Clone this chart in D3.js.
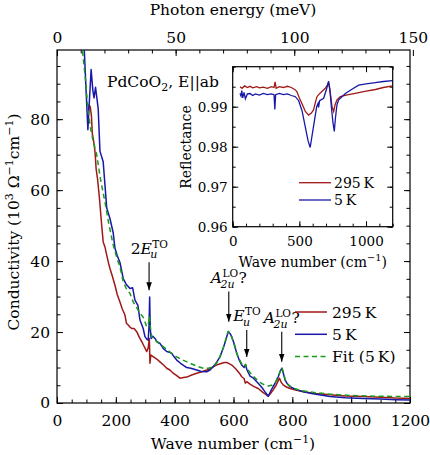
<!DOCTYPE html>
<html>
<head>
<meta charset="utf-8">
<script src="https://cdn.jsdelivr.net/npm/d3@7"></script>
<style>
  body { margin:0; background:#fff; }
  svg { font-family:"DejaVu Serif", serif; }
  .tick text { font-family:"DejaVu Serif", serif; }
</style>
</head>
<body>
<div id="chart"></div>
<script>
// main panel: optical conductivity, [wave number cm-1, sigma 10^3 Ohm-1 cm-1]
const sigma295 = [[105,79],[108,84],[113,83.5],[117,81],[120,76],[124,74],[127,72.5],[130,70],[133,66],[138,63],[144,58],[152,50],[157,45.4],[163,44],[169,41.7],[175,39.5],[180,37.9],[188,35.8],[197,33.2],[205,30.5],[214,28.5],[222,26.5],[231,24.8],[236,22.5],[242,22],[248,21.4],[254,21],[262,21],[271,20.1],[280,18.5],[288,17.3],[296,16],[305,14.5],[310,15.5],[314,18.2],[316,11.2],[319,13.5],[328,13],[339,12.4],[350,11.6],[362,10.7],[373,9.8],[384,9.3],[395,8.4],[406,7.8],[418,7],[430,7.2],[441,7.3],[458,7.9],[475,8.4],[492,8.8],[509,9.3],[520,9.7],[531,10.2],[545,10.8],[560,11.2],[570,11.4],[577,11.4],[585,11.1],[594,10.7],[603,10],[611,9.3],[620,8.4],[628,7.4],[636,6.9],[640,5.6],[645,6],[656,5.3],[670,4.6],[684,4.1],[700,3],[710,2.4],[718,1.9],[727,2.8],[735,3.7],[745,5],[752,6.3],[756,7],[762,5.9],[769,5.1],[780,4.5],[792,4.1],[815,3.6],[837,3.2],[880,2.7],[928,2.3],[980,2],[1041,1.8],[1100,1.6],[1150,1.4],[1200,1.3]];
const sigma5 = [[85,106],[93,99],[100,86],[105,77],[110,85],[116,94],[122,88],[126,86],[131,89],[140,83],[146,71],[157,68],[169,55],[180,52],[191,48],[197,43.6],[205,41.5],[214,39.6],[225,35.1],[235,33.5],[248,32.3],[257,32.5],[265,29],[275,27.5],[282,23.4],[293,21],[299,18.7],[305,18],[310,17.7],[313,22],[315,29.9],[317,21],[320,18.2],[326,18.8],[333,18.2],[340,17.3],[350,16.8],[361,15.4],[373,14.5],[382,14.3],[390,14],[400,12.8],[407,12.1],[420,11.2],[441,10],[455,9.8],[475,9.3],[490,8.9],[509,8.8],[520,9.3],[531,10.2],[543,11.5],[554,13],[565,15.5],[573,17.5],[582,20.1],[588,19.6],[594,18.7],[603,16.5],[611,14],[620,12],[628,10.7],[636,10],[641,10.8],[645,9.5],[650,8.6],[656,7.6],[668,7],[679,6],[690,5],[700,4],[710,2.8],[718,1.9],[728,3.6],[741,5.5],[752,7.4],[758,8.8],[764,9.8],[769,8.5],[775,6.5],[783,5.4],[792,4.6],[810,3.9],[837,3.2],[870,2.6],[928,1.8],[980,1.5],[1041,1.3],[1100,1.1],[1150,0.95],[1200,0.85]];
const sigmaFit = [[82,104],[87,99],[97,91],[106,82],[115,77],[125,73],[135,70],[148,63],[163,56.7],[175,51],[191,44.5],[205,40.5],[214,38.4],[225,34.2],[237,32],[248,30.9],[259,28.5],[270,27],[282,25.3],[293,24.2],[305,21.5],[311,22.5],[314,24.5],[318,21],[322,18.7],[340,17.2],[361,15.9],[385,14.3],[407,13],[430,12],[452,11.2],[475,10.4],[497,9.8],[515,9.8],[531,10.2],[543,11.3],[554,13],[565,15.5],[573,17.8],[582,20.2],[588,19.6],[594,18.5],[603,16.3],[611,14],[620,12.3],[628,11],[636,10.3],[641,10.9],[645,9.8],[656,8.6],[668,7.5],[679,6.6],[690,5.8],[705,5.1],[718,4.8],[730,5],[741,5.6],[752,7.4],[758,8.8],[764,10],[770,8.6],[775,6.8],[781,5.5],[792,4.8],[803,4.2],[830,3.5],[870,3],[928,2.5],[1000,2.1],[1100,1.9],[1200,1.8]];

// inset: reflectance
const refl295 = [[55,0.9950],[70,0.9946],[90,0.9952],[110,0.9948],[130,0.9951],[150,0.9947],[180,0.9950],[200,0.9947],[230,0.9949],[260,0.9946],[290,0.9950],[310,0.9948],[318,0.9962],[326,0.9946],[350,0.9950],[380,0.9948],[410,0.9951],[440,0.9948],[470,0.9942],[481,0.9938],[500,0.9922],[519,0.9908],[545,0.9888],[569,0.9879],[590,0.9884],[606,0.9892],[620,0.9910],[632,0.9925],[650,0.9932],[669,0.9938],[694,0.9946],[710,0.9954],[719,0.9960],[732,0.9935],[745,0.9900],[757,0.9888],[768,0.9905],[782,0.9917],[807,0.9925],[850,0.9929],[900,0.9932],[945,0.9935],[1000,0.9939],[1070,0.9943],[1130,0.9948],[1200,0.9952]];
const refl5 = [[55,0.9933],[62,0.9927],[68,0.9940],[75,0.9922],[85,0.9936],[95,0.9920],[110,0.9932],[130,0.9933],[150,0.9928],[170,0.9932],[200,0.9929],[230,0.9933],[260,0.9930],[290,0.9932],[310,0.9930],[316,0.9893],[322,0.9930],[350,0.9933],[380,0.9930],[410,0.9932],[440,0.9928],[470,0.9925],[495,0.9915],[520,0.9890],[544,0.9850],[565,0.9815],[581,0.9798],[594,0.9825],[614,0.9867],[630,0.9900],[640,0.9908],[644,0.9898],[652,0.9915],[682,0.9921],[700,0.9940],[707,0.9948],[719,0.9964],[728,0.9945],[740,0.9900],[752,0.9860],[762,0.9838],[770,0.9870],[782,0.9905],[795,0.9917],[845,0.9933],[900,0.9945],[945,0.9954],[1000,0.9957],[1070,0.9960],[1130,0.9963],[1200,0.9965]];

const xMajor = [0,200,400,600,800,1000,1200];
const yMajor = [0,20,40,60,80];
const eMajor = [0,50,100,150];
const insetXMajor = [0,500,1000];
const insetYMajor = [0.96,0.97,0.98,0.99];

const series = [
  { name:"295\u2009K", data:sigma295, color:"#a01818", dash:null },
  { name:"5\u2009K", data:sigma5, color:"#1818a8", dash:null },
  { name:"Fit (5\u2009K)", data:sigmaFit, color:"#1a9a1a", dash:"5,3.5" }
];

const marks = [
  { wn:313, tip:31.8, tail:39.7, pre:"2", base:"E", sup:"TO", sub:"u", post:"" },
  { wn:584, tip:22.9, tail:31.4, pre:"", base:"A", sup:"LO", sub:"2u", post:"?" },
  { wn:645, tip:13.0, tail:20.6, pre:"", base:"E", sup:"TO", sub:"u", post:"" },
  { wn:764, tip:11.6, tail:20.1, pre:"", base:"A", sup:"LO", sub:"2u", post:"?" }
];

const width = 430, height = 455;
const fs = 15.5;
const svg = d3.select("#chart").append("svg").attr("width",width).attr("height",height);

const x = d3.scaleLinear().domain([0,1200]).range([57,410]);
const y = d3.scaleLinear().domain([0,99.5]).range([403,50]);
const xE = d3.scaleLinear().domain([0,1200/8.0655]).range([57,410]);

svg.append("defs").append("clipPath").attr("id","mainclip")
  .append("rect").attr("x",57).attr("y",50).attr("width",353).attr("height",353);
svg.select("defs").append("marker").attr("id","arr")
  .attr("viewBox","0 0 10 10").attr("refX",10).attr("refY",5)
  .attr("markerWidth",8).attr("markerHeight",8).attr("markerUnits","userSpaceOnUse")
  .attr("orient","auto")
  .append("path").attr("d","M0,1.5 L10,5 L0,8.5 Z").attr("fill","#000");

// main axes
function drawAxis(gen, scale, major, minor, transform, pad, fmt){
  let gm = svg.append("g").attr("transform",transform)
    .call(gen(scale).tickValues(minor).tickSize(-3.5).tickFormat(""));
  gm.select(".domain").remove();
  let g = svg.append("g").attr("transform",transform)
    .call(gen(scale).tickValues(major).tickSize(-6).tickPadding(pad).tickFormat(fmt||d3.format("d")));
  g.select(".domain").remove();
  g.selectAll("text").attr("font-size",fs).attr("fill","#000");
  return g;
}
drawAxis(d3.axisBottom, x, xMajor, d3.range(0,1201,50), "translate(0,403)", 12);
drawAxis(d3.axisLeft, y, yMajor, d3.range(0,100,5), "translate(57,0)", 7);
drawAxis(d3.axisTop, xE, eMajor, d3.range(0,150,10), "translate(0,50)", 7);
drawAxis(d3.axisRight, y, yMajor, d3.range(0,100,5), "translate(410,0)", 7, () => "");

svg.append("rect").attr("x",57).attr("y",50).attr("width",353).attr("height",353)
  .attr("fill","none").attr("stroke","#000").attr("stroke-width",1.2);

// curves
let line = d3.line().x(d => x(d[0])).y(d => y(d[1]));
let plot = svg.append("g").attr("clip-path","url(#mainclip)");
series.forEach(s => {
  plot.append("path").attr("d",line(s.data)).attr("fill","none")
    .attr("stroke",s.color).attr("stroke-width",1.5)
    .attr("stroke-dasharray",s.dash)
    .attr("stroke-linejoin","round");
});

// arrows + labels
marks.forEach(m => {
  svg.append("line").attr("x1",x(m.wn)).attr("x2",x(m.wn))
    .attr("y1",y(m.tail)).attr("y2",y(m.tip))
    .attr("stroke","#000").attr("stroke-width",1.1).attr("marker-end","url(#arr)");
  let by = y(m.tail) - 8.5;
  let g = svg.append("g");
  let t = g.append("text").attr("x",0).attr("y",by).attr("font-size",fs);
  t.append("tspan").text(m.pre);
  t.append("tspan").attr("font-style","italic").text(m.base);
  let w = t.node().getComputedTextLength();
  let sup = g.append("text").attr("x",w+0.5).attr("y",by-6).attr("font-size",10.5).text(m.sup);
  let sub = g.append("text").attr("x",w-1.5).attr("y",by+4.5).attr("font-size",11).attr("font-style","italic").text(m.sub);
  let w2 = w + Math.max(sup.node().getComputedTextLength(), sub.node().getComputedTextLength()-2);
  let total = w2;
  if (m.post) {
    let q = g.append("text").attr("x",w2+1).attr("y",by).attr("font-size",fs).text(m.post);
    total = w2 + 1 + q.node().getComputedTextLength();
  }
  g.attr("transform",`translate(${x(m.wn) - total/2},0)`);
});

// sample label
let title = svg.append("text").attr("x",107).attr("y",87).attr("font-size",fs);
title.append("tspan").text("PdCoO");
title.append("tspan").attr("font-size",11).attr("dy",4).text("2");
title.append("tspan").attr("dy",-4).text(", E||ab");

// axis labels
let ylab = svg.append("text").attr("transform","translate(19,222) rotate(-90)")
  .attr("text-anchor","middle").attr("font-size",fs);
ylab.append("tspan").text("Conductivity (10");
ylab.append("tspan").attr("font-size",11).attr("dy",-6).text("3");
ylab.append("tspan").attr("dy",6).text(" \u03A9");
ylab.append("tspan").attr("font-size",11).attr("dy",-6).text("\u22121");
ylab.append("tspan").attr("dy",6).text("cm");
ylab.append("tspan").attr("font-size",11).attr("dy",-6).text("\u22121");
ylab.append("tspan").attr("dy",6).text(")");

function waveLabel(xc, yb, size){
  let t = svg.append("text").attr("x",xc).attr("y",yb).attr("text-anchor","middle").attr("font-size",size);
  t.append("tspan").text("Wave number (cm");
  t.append("tspan").attr("font-size",size*0.7).attr("dy",-size*0.4).text("\u22121");
  t.append("tspan").attr("dy",size*0.4).text(")");
}
waveLabel(233,449,fs);
svg.append("text").attr("x",233).attr("y",15).attr("text-anchor","middle").attr("font-size",fs).text("Photon energy (meV)");

// main legend
series.forEach((s,i) => {
  let ly = 312 + i*22.3;
  svg.append("line").attr("x1",295).attr("x2",327).attr("y1",ly).attr("y2",ly)
    .attr("stroke",s.color).attr("stroke-width",1.5).attr("stroke-dasharray",s.dash);
  svg.append("text").attr("x",332).attr("y",ly+5.5).attr("font-size",fs).text(s.name);
});

// inset
const ix = d3.scaleLinear().domain([0,1200]).range([232.7,392.7]);
const iy = d3.scaleLinear().domain([0.96,1.0]).range([226.7,66.7]);
svg.append("rect").attr("x",232.7).attr("y",66.7).attr("width",160).attr("height",160).attr("fill","#fff");
svg.select("defs").append("clipPath").attr("id","insetclip")
  .append("rect").attr("x",232.7).attr("y",66.7).attr("width",160).attr("height",160);

function drawInsetAxis(gen, scale, major, minor, transform, pad, fmt){
  let gm = svg.append("g").attr("transform",transform)
    .call(gen(scale).tickValues(minor).tickSize(-3).tickFormat(""));
  gm.select(".domain").remove();
  let g = svg.append("g").attr("transform",transform)
    .call(gen(scale).tickValues(major).tickSize(-5.5).tickPadding(pad).tickFormat(fmt));
  g.select(".domain").remove();
  g.selectAll("text").attr("font-size",13.5).attr("fill","#000");
}
drawInsetAxis(d3.axisBottom, ix, insetXMajor, d3.range(0,1201,100), "translate(0,226.7)", 10, d3.format("d"));
drawInsetAxis(d3.axisTop, ix, insetXMajor, d3.range(0,1201,100), "translate(0,66.7)", 10, () => "");
drawInsetAxis(d3.axisLeft, iy, insetYMajor, d3.range(0.96,1.0001,0.005), "translate(232.7,0)", 5, d3.format(".2f"));
drawInsetAxis(d3.axisRight, iy, insetYMajor, d3.range(0.96,1.0001,0.005), "translate(392.7,0)", 6, () => "");

let iline = d3.line().x(d => ix(d[0])).y(d => iy(d[1]));
let ip = svg.append("g").attr("clip-path","url(#insetclip)");
ip.append("path").attr("d",iline(refl295)).attr("fill","none").attr("stroke","#a01818").attr("stroke-width",1.3);
ip.append("path").attr("d",iline(refl5)).attr("fill","none").attr("stroke","#1818a8").attr("stroke-width",1.3);

svg.append("rect").attr("x",232.7).attr("y",66.7).attr("width",160).attr("height",160)
  .attr("fill","none").attr("stroke","#000").attr("stroke-width",1.2);

[["295\u2009K","#a01818"],["5\u2009K","#1818a8"]].forEach((d,i) => {
  let ly = 182.7 + i*17.3;
  svg.append("line").attr("x1",299).attr("x2",331).attr("y1",ly).attr("y2",ly)
    .attr("stroke",d[1]).attr("stroke-width",1.3);
  svg.append("text").attr("x",334).attr("y",ly+5).attr("font-size",14).text(d[0]);
});

svg.append("text").attr("transform","translate(191,147) rotate(-90)")
  .attr("text-anchor","middle").attr("font-size",14).text("Reflectance");
waveLabel(312.7,267,14);
</script>
</body>
</html>
